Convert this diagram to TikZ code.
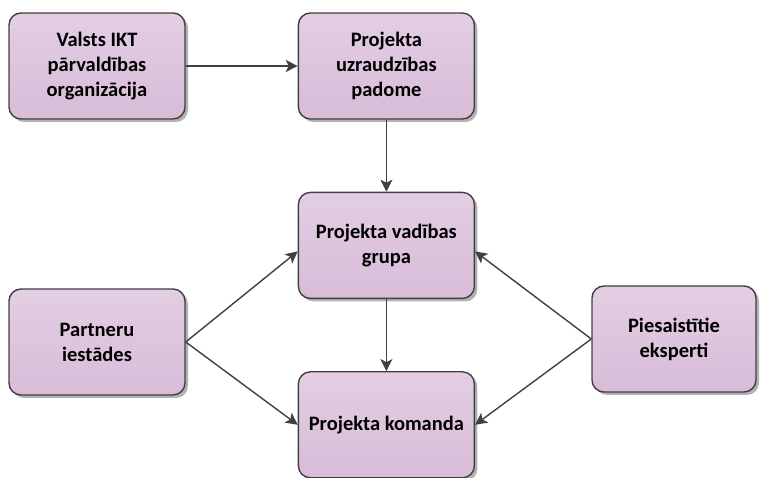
\documentclass[tikz,border=0pt]{standalone}
\usepackage{fontspec}
\setmainfont{Carlito}
\usetikzlibrary{arrows.meta,positioning,shadows}

\definecolor{boxline}{RGB}{64,64,64}
\definecolor{boxtop}{RGB}{227,206,227}
\definecolor{boxfill}{RGB}{216,188,216}

\begin{document}
\begin{tikzpicture}[
  x=1pt, y=-1pt,
  node distance=72pt and 112pt,
  box/.style={draw=boxline,line width=1.4pt,rounded corners=12pt,align=center,
    font=\fontsize{20.5}{25}\selectfont\bfseries,minimum width=176pt,minimum height=106pt,
    top color=boxtop,bottom color=boxfill,
    drop shadow={shadow xshift=3pt,shadow yshift=-3pt,opacity=.3,fill=black}},
  link/.style={draw=boxline,line width=1.4pt},
  >={Stealth[length=12pt,width=12pt,inset=3pt]}
]
\useasboundingbox (0,0) rectangle (761,478);

\node[box] (valsts) at (97,66) {Valsts IKT\\pārvaldības\\organizācija};
\node[box, right=of valsts] (padome) {Projekta\\uzraudzības\\padome};
\node[box, below=of padome] (vadiba) {Projekta vadības\\grupa};
\node[box, below=of vadiba] (komanda) {Projekta komanda};

\node[box] (partneri) at (97,342) {Partneru\\iestādes};
\node[box, minimum width=164pt] (eksperti) at (674,339) {Piesaistītie\\eksperti};

\draw[link,->] (valsts) -- (padome);
\draw[link,->] (padome) -- (vadiba);
\draw[link,->] (vadiba) -- (komanda);
\draw[link,->] (partneri.east) -- ([yshift=-6pt]vadiba.west);
\draw[link,->] (partneri.east) -- (komanda.west);
\draw[link,->] (eksperti.west) -- ([yshift=-6pt]vadiba.east);
\draw[link,->] (eksperti.west) -- (komanda.east);
\end{tikzpicture}
\end{document}
